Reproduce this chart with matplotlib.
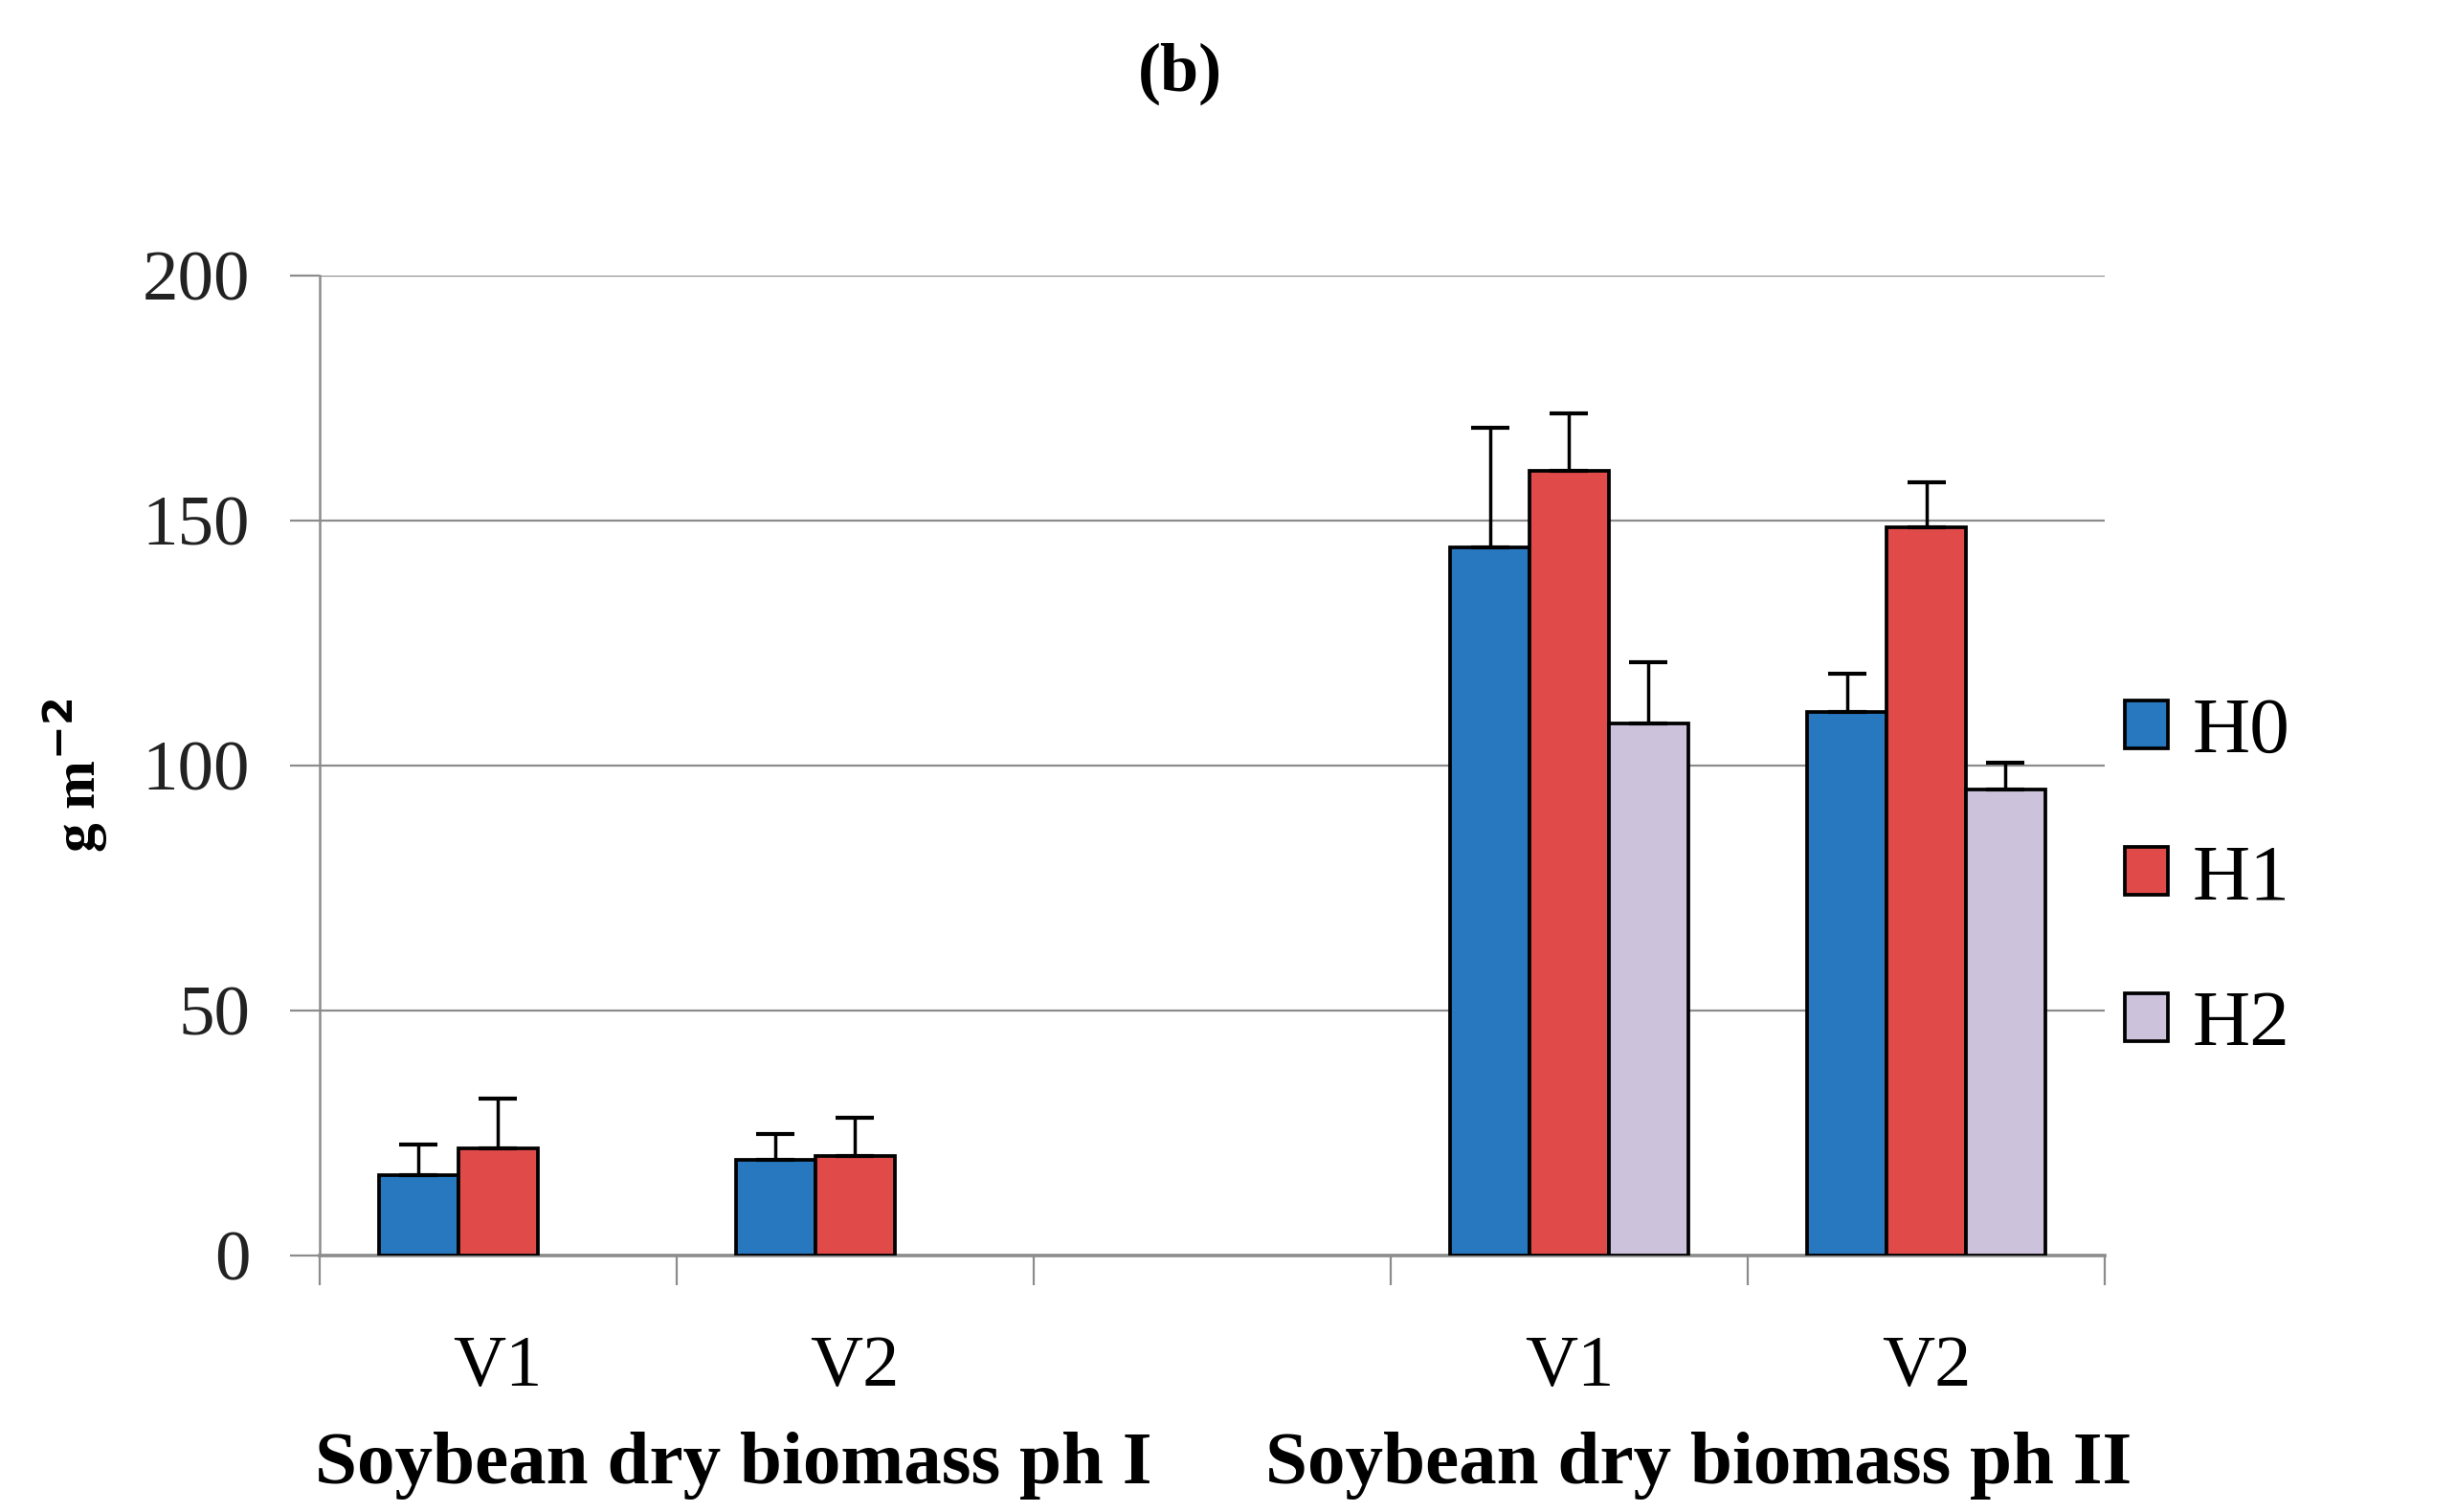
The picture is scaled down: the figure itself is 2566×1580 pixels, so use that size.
import numpy as np
import matplotlib
matplotlib.use("Agg")
import matplotlib.pyplot as plt

# ---- data ----
categories = ["V1", "V2", "", "V1", "V2"]
group_labels = ["Soybean dry biomass ph I", "Soybean dry biomass ph II"]
series_names = ["H0", "H1", "H2"]
h0 = [16.5, 19.5, np.nan, 144.5, 111.0]
h1 = [21.9, 20.3, np.nan, 160.2, 148.6]
h2 = [np.nan, np.nan, np.nan, 108.6, 95.2]
h0_err = [6.1, 5.4, np.nan, 24.4, 7.7]
h1_err = [10.1, 7.8, np.nan, 11.7, 9.2]
h2_err = [np.nan, np.nan, np.nan, 12.5, 5.4]
y_ticks = [0, 50, 100, 150, 200]

colors = ["#2878c0", "#e04b4a", "#cdc2dc"]
serif = ["Liberation Serif", "DejaVu Serif"]
plt.rcParams["font.family"] = serif

fig = plt.figure(figsize=(25.66, 15.80), dpi=100)
ax = fig.add_axes([0.130, 0.1696, 0.727, 0.648])

x = np.arange(len(categories))
w = 0.222
vals = [h0, h1, h2]
errs = [h0_err, h1_err, h2_err]
handles = []
for i, (v, e, c, n) in enumerate(zip(vals, errs, colors, series_names)):
    pos = x + (i - 1) * w
    b = ax.bar(pos, v, width=w, color=c, edgecolor="black", linewidth=2.7,
               label=n, zorder=3)
    handles.append(b)
    ax.errorbar(pos, v, yerr=[np.zeros(len(e)), e], fmt="none", ecolor="black",
                elinewidth=2.5, capsize=14.5, capthick=3, zorder=4)

ax.set_ylim(0, 200)
ax.set_xlim(-0.5, len(categories) - 0.5)
ax.set_yticks(y_ticks)
ax.set_yticklabels([str(t) for t in y_ticks])
ax.yaxis.grid(True, color="#8c8c8c", linewidth=1.6, zorder=0)
ax.set_axisbelow(True)

ax.set_xticks(np.arange(-0.5, len(categories), 1.0))
ax.set_xticklabels([])
ax.set_xticks(x, minor=True)
ax.set_xticklabels(categories, minor=True)
ax.tick_params(axis="x", which="major", length=22, width=1.6, color="#8c8c8c", direction="out")
ax.tick_params(axis="x", which="minor", length=0, pad=60, labelsize=55)
ax.tick_params(axis="y", length=22, width=1.6, color="#8c8c8c", direction="out",
               labelsize=54, pad=30, labelcolor="#222222")

for s in ["top", "right"]:
    ax.spines[s].set_visible(False)
ax.spines["left"].set_color("#8c8c8c")
ax.spines["left"].set_linewidth(1.8)
ax.spines["bottom"].set_color("#8c8c8c")
ax.spines["bottom"].set_linewidth(2.6)

fig.text(0.031, 0.487, r"g m$^{\mathbf{-2}}$", rotation=90, ha="center", va="center",
         fontsize=44, fontweight="bold")
fig.text(0.4805, 0.951, "(b)", ha="center", va="center", fontsize=52, fontweight="bold")
fig.text(0.2986, 0.031, group_labels[0], ha="center", va="center", fontsize=57, fontweight="bold")
fig.text(0.6915, 0.031, group_labels[1], ha="center", va="center", fontsize=57, fontweight="bold")

fig.legend(handles=handles, labels=series_names, loc="center left",
           bbox_to_anchor=(0.852, 0.418), frameon=False, fontsize=60,
           handlelength=0.55, handleheight=0.55, handletextpad=0.3, labelspacing=0.93,
           borderaxespad=0)

fig.savefig("out.png", dpi=100)
